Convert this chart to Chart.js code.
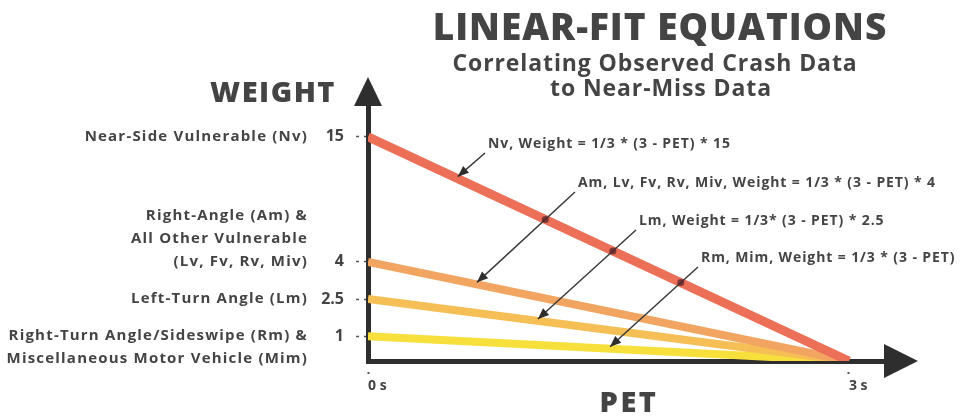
<!DOCTYPE html>
<html>
<head>
<meta charset="utf-8">
<script src="https://cdn.jsdelivr.net/npm/chart.js@4/dist/chart.umd.min.js"></script>
<style>
  html, body { margin: 0; padding: 0; background: #fff; }
</style>
</head>
<body>
<canvas id="canvas" width="968" height="417"></canvas>
<script>
// ---- data ----
let pet = [0, 3];
let nvWeight = [15, 0];
let amWeight = [4, 0];
let lmWeight = [2.5, 0];
let rmWeight = [1, 0];
let seriesNames = ['Nv', 'Am, Lv, Fv, Rv, Miv', 'Lm', 'Rm, Mim'];
let yTicks = [1, 2.5, 4, 15];
let xTicks = [0, 3];
let xTickLabels = ['0 s', '3 s'];
let categoryValues = [15, 4, 2.5, 1];
let categoryLabels = [
  ['Near-Side Vulnerable (Nv)'],
  ['Right-Angle (Am) &', 'All Other Vulnerable', '(Lv, Fv, Rv, Miv)'],
  ['Left-Turn Angle (Lm)'],
  ['Right-Turn Angle/Sideswipe (Rm) &', 'Miscellaneous Motor Vehicle (Mim)']
];
let equations = [
  'Nv, Weight = 1/3 * (3 - PET) * 15',
  'Am, Lv, Fv, Rv, Miv, Weight = 1/3 * (3 - PET) * 4',
  'Lm, Weight = 1/3* (3 - PET) * 2.5',
  'Rm, Mim, Weight = 1/3 * (3 - PET)'
];
let arrowPet = [0.56, 0.68, 1.06, 1.51];
let title = 'LINEAR-FIT EQUATIONS';
let subtitle = ['Correlating Observed Crash Data', 'to Near-Miss Data'];

// ---- look ----
const FONT = '"Open Sans", "DejaVu Sans", sans-serif';
const TEXT = '#444444';
const AXIS = '#2e2e2e';
const colors = ['#ec6f57', '#f2a560', '#f5bf55', '#f8e03c'];
const widths = [9, 8, 8, 8];

// y axis is squeezed above 4 so the 15 line fits (schematic axis)
const BREAK = 4, SQUEEZE = 0.459;
function warp(v) { return v <= BREAK ? v : BREAK + (v - BREAK) * SQUEEZE; }
function unwarp(w) { return w <= BREAK ? w : BREAK + (w - BREAK) / SQUEEZE; }

class WarpScale extends Chart.LinearScale {
  getPixelForValue(value) {
    if (value === null || value === undefined) return NaN;
    let a = warp(this.min), b = warp(this.max);
    return this.getPixelForDecimal((warp(value) - a) / (b - a));
  }
  getValueForPixel(pixel) {
    let a = warp(this.min), b = warp(this.max);
    return unwarp(a + this.getDecimalForPixel(pixel) * (b - a));
  }
}
WarpScale.id = 'warp';
WarpScale.defaults = Chart.LinearScale.defaults;
Chart.register(WarpScale);

let weights = [nvWeight, amWeight, lmWeight, rmWeight];
let datasets = weights.map((w, i) => ({
  label: seriesNames[i],
  data: pet.map((x, j) => ({ x: x, y: w[j] })),
  borderColor: colors[i],
  borderWidth: widths[i],
  borderCapStyle: 'butt',
  pointRadius: 0,
  fill: false
}));

function pointOn(chart, di, xVal) {
  let pts = chart.getDatasetMeta(di).data;
  let px = chart.scales.x.getPixelForValue(xVal);
  let t = (px - pts[0].x) / (pts[1].x - pts[0].x);
  return { x: px, y: pts[0].y + t * (pts[1].y - pts[0].y) };
}

function intersect(p1, p2, p3, p4) {
  let d = (p1.x - p2.x) * (p3.y - p4.y) - (p1.y - p2.y) * (p3.x - p4.x);
  if (Math.abs(d) < 1e-6) return null;
  let t = ((p1.x - p3.x) * (p3.y - p4.y) - (p1.y - p3.y) * (p3.x - p4.x)) / d;
  if (t < 0 || t > 1) return null;
  return { x: p1.x + t * (p2.x - p1.x), y: p1.y + t * (p2.y - p1.y) };
}

function text(ctx, s, x, y, font, spacing) {
  ctx.font = font;
  ctx.letterSpacing = spacing + 'px';
  ctx.fillText(s, x, y);
  ctx.letterSpacing = '0px';
}

const overlay = {
  id: 'overlay',
  afterDraw(chart) {
    let ctx = chart.ctx;
    let area = chart.chartArea;
    let ys = chart.scales.y;
    ctx.save();

    // axis arrow heads
    ctx.fillStyle = AXIS;
    ctx.beginPath();
    ctx.moveTo(area.left - 14, area.top + 1);
    ctx.lineTo(area.left + 14, area.top + 1);
    ctx.lineTo(area.left, area.top - 28);
    ctx.closePath();
    ctx.fill();
    ctx.beginPath();
    ctx.moveTo(area.right - 1, area.bottom - 17);
    ctx.lineTo(area.right - 1, area.bottom + 17);
    ctx.lineTo(area.right + 33, area.bottom);
    ctx.closePath();
    ctx.fill();

    // titles
    ctx.fillStyle = TEXT;
    ctx.textBaseline = 'middle';
    ctx.textAlign = 'center';
    text(ctx, title, 660, 29, '800 37px ' + FONT, 1);
    text(ctx, subtitle[0], 655, 64, '700 23px ' + FONT, 0.9);
    text(ctx, subtitle[1], 661, 89, '700 23px ' + FONT, 0.9);
    ctx.textAlign = 'right';
    text(ctx, 'WEIGHT', 336, 94, '800 29px ' + FONT, 1.5);
    ctx.textAlign = 'center';
    text(ctx, 'PET', 629, 404, '800 29px ' + FONT, 2.5);

    // category labels next to the weight ticks
    let anchorLine = [0, 2, 0, 0];
    ctx.textAlign = 'right';
    categoryLabels.forEach((lines, i) => {
      let y0 = ys.getPixelForValue(categoryValues[i]);
      lines.forEach((s, k) => {
        text(ctx, s, 308, y0 + (k - anchorLine[i]) * 23, '700 15px ' + FONT, 1.2);
      });
    });

    // equation labels with arrows
    let eqPos = [[488, 144], [578, 183], [639, 221], [701, 258]];
    let red = chart.getDatasetMeta(0).data;
    ctx.textAlign = 'left';
    equations.forEach((s, i) => {
      let p = eqPos[i];
      ctx.fillStyle = TEXT;
      text(ctx, s, p[0], p[1], '700 14px ' + FONT, 0.9);
      let start = { x: p[0] - 3, y: p[1] + 9 };
      let tip = pointOn(chart, i, arrowPet[i]);
      tip.y -= 2;
      ctx.strokeStyle = '#3a3a3a';
      ctx.lineWidth = 1.5;
      ctx.beginPath();
      ctx.moveTo(start.x, start.y);
      ctx.lineTo(tip.x, tip.y);
      ctx.stroke();
      let ang = Math.atan2(tip.y - start.y, tip.x - start.x);
      ctx.fillStyle = '#2e2e2e';
      ctx.beginPath();
      ctx.moveTo(tip.x, tip.y);
      ctx.lineTo(tip.x - 11 * Math.cos(ang) + 4.5 * Math.sin(ang), tip.y - 11 * Math.sin(ang) - 4.5 * Math.cos(ang));
      ctx.lineTo(tip.x - 11 * Math.cos(ang) - 4.5 * Math.sin(ang), tip.y - 11 * Math.sin(ang) + 4.5 * Math.cos(ang));
      ctx.closePath();
      ctx.fill();
      if (i > 0) {
        let c = intersect(start, tip, red[0], red[1]);
        if (c) {
          ctx.fillStyle = 'rgba(90, 35, 40, 0.75)';
          ctx.beginPath();
          ctx.arc(c.x, c.y, 3.5, 0, Math.PI * 2);
          ctx.fill();
        }
      }
    });
    ctx.restore();
  }
};

let canvas = document.getElementById('canvas');
let myChart = new Chart(canvas, {
  type: 'line',
  data: { datasets: datasets },
  options: {
    responsive: false,
    animation: false,
    layout: { padding: { left: 297, top: 105, right: 83, bottom: 16 } },
    plugins: { legend: { display: false }, tooltip: { enabled: false } },
    scales: {
      x: {
        type: 'linear',
        min: 0,
        max: 3.225,
        z: 1,
        border: { color: AXIS, width: 5 },
        grid: {
          drawOnChartArea: false,
          drawTicks: true,
          tickLength: 13,
          tickWidth: 2,
          tickColor: '#555',
          tickBorderDash: [2, 20],
          tickBorderDashOffset: 14
        },
        afterBuildTicks: (s) => { s.ticks = xTicks.map(v => ({ value: v })); },
        afterFit: (s) => { s.height = 40; },
        ticks: {
          autoSkip: false,
          maxRotation: 0,
          align: 'start',
          padding: 4,
          color: TEXT,
          font: { family: FONT, weight: 'bold', size: 14 },
          callback: (v) => xTickLabels[xTicks.indexOf(v)]
        }
      },
      y: {
        type: 'warp',
        min: 0,
        max: 17.8,
        z: 1,
        border: { color: AXIS, width: 5 },
        grid: {
          drawOnChartArea: false,
          drawTicks: true,
          tickLength: 16,
          tickWidth: 1.5,
          tickColor: '#555',
          tickBorderDash: [3, 5],
          tickBorderDashOffset: 4
        },
        afterBuildTicks: (s) => { s.ticks = yTicks.map(v => ({ value: v })); },
        afterFit: (s) => { s.width = 71; },
        ticks: {
          autoSkip: false,
          padding: 8,
          color: TEXT,
          font: { family: FONT, weight: 'bold', size: 16 },
          callback: (v) => String(v)
        }
      }
    }
  },
  plugins: [overlay]
});
</script>
</body>
</html>
